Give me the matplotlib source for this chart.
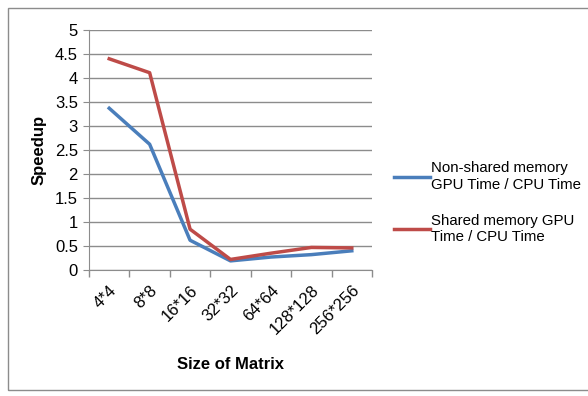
import numpy as np
import matplotlib.pyplot as plt
from matplotlib.patches import Rectangle

sizes = ["4*4", "8*8", "16*16", "32*32", "64*64", "128*128", "256*256"]
non_shared = [3.37, 2.62, 0.62, 0.19, 0.27, 0.32, 0.40]
shared = [4.40, 4.11, 0.85, 0.22, 0.35, 0.47, 0.46]
series_names = ["Non-shared memory\nGPU Time / CPU Time",
                "Shared memory GPU\nTime / CPU Time"]

plt.rcParams["font.family"] = ["Liberation Sans", "DejaVu Sans"]

fig = plt.figure(figsize=(5.88, 3.96), dpi=100)
# outer chart frame
fig.patches.append(Rectangle((8 / 588, 6 / 396), 590 / 588, 382 / 396,
                             transform=fig.transFigure, fill=False,
                             edgecolor="#8c8c8c", linewidth=1))

ax = fig.add_axes([89 / 588, 126 / 396, 283 / 588, 240 / 396])
x = np.arange(len(sizes))
ax.plot(x, non_shared, color="#4a7ebb", linewidth=2.5, label=series_names[0])
ax.plot(x, shared, color="#be4b48", linewidth=2.5, label=series_names[1])

ax.set_xlim(-0.5, len(sizes) - 0.5)
ax.set_ylim(0, 5)
ax.set_yticks(np.arange(0, 5.01, 0.5))
ax.set_yticklabels(["0", "0.5", "1", "1.5", "2", "2.5", "3", "3.5", "4", "4.5", "5"], fontsize=12)
ax.set_xticks(x)
ax.set_xticklabels(sizes, rotation=45, ha="right", rotation_mode="anchor", fontsize=12)
ax.set_xticks(np.arange(-0.5, len(sizes)), minor=True)
ax.tick_params(axis="x", which="major", length=0, pad=9)
ax.tick_params(axis="x", which="minor", length=5, color="#8c8c8c", width=1)
ax.tick_params(axis="y", length=4, color="#8c8c8c", pad=4)

ax.grid(axis="y", color="#8c8c8c", linewidth=1)
ax.set_axisbelow(True)
for side in ["top", "right"]:
    ax.spines[side].set_visible(False)
for side in ["left", "bottom"]:
    ax.spines[side].set_color("#8c8c8c")

ax.set_ylabel("Speedup", fontsize=12, fontweight="bold", labelpad=6)
ax.set_xlabel("Size of Matrix", fontsize=12, fontweight="bold", labelpad=14)

ax.legend(loc="center left", bbox_to_anchor=(1.03, 0.28), frameon=False,
          fontsize=10.8, handlelength=2.4, handletextpad=0.1, labelspacing=1.5)

fig.savefig("out.png", dpi=100)
